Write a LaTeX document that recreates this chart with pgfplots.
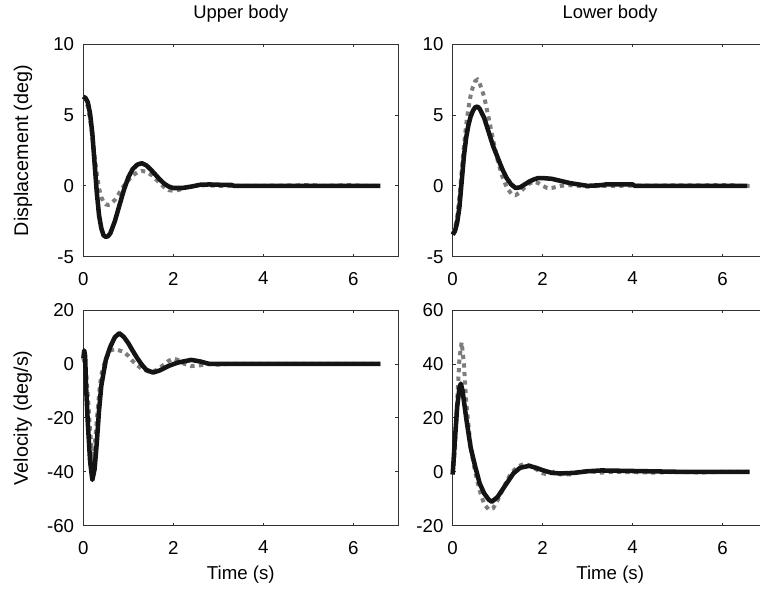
\documentclass[border=0pt]{standalone}
\usepackage{fontspec}
\setmainfont{Liberation Sans}
\usepackage{pgfplots}
\pgfplotsset{compat=1.18}
\usepackage{pgfplotstable}

\pgfplotstableread{
t y
0 6.3
0.05 6.2
0.1 5.9
0.15 5.1
0.2 3.7
0.25 1.6
0.3 -0.5
0.35 -2.1
0.4 -3.0
0.45 -3.5
0.5 -3.6
0.55 -3.55
0.6 -3.35
0.7 -2.5
0.8 -1.4
0.9 -0.3
1.0 0.6
1.1 1.2
1.2 1.5
1.3 1.6
1.4 1.45
1.5 1.15
1.6 0.8
1.7 0.45
1.8 0.15
1.9 -0.05
2.0 -0.15
2.2 -0.15
2.4 -0.05
2.6 0.08
2.8 0.1
3.0 0.08
3.3 0.06
3.35 0
6.6 0
}\ulblack

\pgfplotstableread{
t y
0 6.3
0.05 6.1
0.1 5.6
0.15 4.7
0.2 3.5
0.25 2.1
0.3 0.8
0.35 -0.2
0.4 -0.8
0.45 -1.15
0.5 -1.3
0.55 -1.35
0.6 -1.3
0.7 -1.0
0.8 -0.5
0.9 0.0
1.0 0.4
1.1 0.75
1.2 0.95
1.3 1.05
1.4 1.0
1.5 0.8
1.6 0.5
1.7 0.2
1.8 -0.1
1.9 -0.3
2.0 -0.35
2.1 -0.3
2.3 -0.1
2.5 0.0
2.7 0.05
3.0 0.0
4.0 0.0
4.9 0.05
5.1 0.05
5.3 0
5.8 0.05
6.0 0.05
6.2 0
6.6 0
}\ulgray

\pgfplotstableread{
t y
0 -3.45
0.05 -3.2
0.1 -2.6
0.15 -1.5
0.2 0.3
0.25 2.1
0.3 3.4
0.35 4.3
0.4 4.9
0.45 5.3
0.5 5.55
0.55 5.6
0.6 5.45
0.7 4.8
0.8 3.8
0.9 2.8
1.0 2.0
1.1 1.2
1.2 0.55
1.3 0.1
1.4 -0.15
1.5 -0.1
1.6 0.1
1.7 0.3
1.8 0.45
1.9 0.55
2.0 0.55
2.2 0.5
2.4 0.35
2.6 0.2
2.8 0.1
3.0 0.0
3.3 0.05
3.4 0.1
4.0 0.1
4.05 0
6.55 0
}\urblack

\pgfplotstableread{
t y
0 -3.4
0.05 -3.0
0.1 -2.2
0.15 -0.8
0.2 1.0
0.25 2.8
0.3 4.3
0.35 5.5
0.4 6.4
0.45 7.0
0.5 7.4
0.55 7.5
0.6 7.25
0.7 6.3
0.8 4.8
0.9 3.2
1.0 1.8
1.1 0.7
1.2 -0.1
1.3 -0.55
1.4 -0.65
1.5 -0.45
1.6 -0.1
1.7 0.15
1.8 0.3
1.9 0.2
2.0 0.0
2.1 -0.15
2.2 -0.15
2.4 0.0
2.6 0.05
2.8 0.0
3.0 -0.05
3.3 0.0
6.0 0.05
6.2 0.05
6.4 0
6.6 0
}\urgray

\pgfplotstableread{
t y
0 2
0.02 5
0.04 3
0.06 -8
0.1 -22
0.15 -36
0.2 -43
0.25 -39
0.3 -29
0.35 -17
0.4 -8
0.5 1.5
0.6 6.4
0.7 9.9
0.8 11.4
0.9 10
1.0 7.7
1.1 4.8
1.2 2.1
1.3 -0.3
1.4 -2.2
1.55 -3.2
1.7 -2.4
1.9 -0.7
2.1 0.5
2.4 1.5
2.6 0.9
2.8 0
6.6 0
}\llblack

\pgfplotstableread{
t y
0 2
0.04 0
0.07 -5
0.1 -12
0.15 -25
0.2 -34
0.25 -31
0.3 -21
0.35 -11
0.4 -4
0.5 2
0.6 5
0.7 5.5
0.8 5
0.9 4.5
1.0 3
1.1 1
1.2 -0.5
1.3 -1.8
1.45 -2.8
1.6 -2.5
1.75 -0.8
1.9 1.2
2.0 2.0
2.1 1.5
2.25 0
2.4 -0.8
2.6 -0.5
2.8 0
3.0 -0.3
3.2 0
6.6 0
}\llgray

\pgfplotstableread{
t y
0 -1
0.05 12
0.1 24
0.15 31
0.18 32.7
0.22 30
0.3 20
0.4 9
0.5 2
0.6 -4.3
0.7 -8
0.8 -10.3
0.87 -11.1
1.0 -9.3
1.1 -6.8
1.2 -4.3
1.35 -0.6
1.5 1.5
1.7 2.2
1.85 1.5
2.0 0.6
2.2 -0.4
2.4 -0.6
2.7 -0.4
3.0 0.2
3.3 0.5
4.0 0.3
5.0 0
6.6 0
}\lrblack

\pgfplotstableread{
t y
0 -1
0.05 8
0.1 26
0.15 42
0.2 48
0.25 40
0.3 26
0.4 9
0.5 0
0.6 -7
0.7 -12
0.8 -14
0.9 -13.5
1.0 -10.5
1.1 -7
1.2 -3.5
1.3 -0.5
1.45 2
1.6 3
1.75 2
1.9 0.5
2.0 -0.5
2.1 -1
2.25 0
2.4 -1
2.6 -1
2.8 0
3.0 0.3
3.3 -0.3
3.6 0
4.5 -0.3
5.0 0
5.5 -0.3
6.0 0
6.6 0
}\lrgray

\definecolor{axgray}{RGB}{50,50,50}
\definecolor{dotgray}{RGB}{125,125,125}
\definecolor{lineblack}{RGB}{20,20,20}

\pgfplotsset{
  panel/.style={
    scale only axis,
    width=236.25pt,
    xmin=0, xmax=7,
    xtick={0,2,4,6},
    axis line style={axgray, line width=0.75pt},
    tick style={axgray, line width=0.6pt},
    tick align=inside,
    major tick length=2.2pt,
    /pgf/number format/assume math mode=true,
    tick label style={font=\fontsize{14}{14}\selectfont, color=black},
    xticklabel style={yshift=-8.0pt},
    yticklabel style={xshift=-3.4pt},
    title style={font=\fontsize{13.8}{14}\selectfont, at={(axis description cs:0.5,1)}, anchor=base, yshift=13.2pt},
    every axis x label/.style={font=\fontsize{14}{14}\selectfont, at={(axis description cs:0.5,0)}, anchor=base, yshift=-40.7pt},
    every axis y label/.style={font=\fontsize{14.8}{15}\selectfont, at={([xshift=-41.5pt]axis description cs:0,0.5)}, rotate=90, anchor=base},
    clip=false,
  },
  grayline/.style={dotgray, line width=3pt, dash pattern=on 3.2pt off 3.2pt, line cap=butt},
  blackline/.style={lineblack, line width=3.4pt, line join=round},
}

\begin{document}
\begin{tikzpicture}
\begin{axis}[panel, at={(62.5pt,-33.2pt)}, anchor=north west, height=159.3pt,
  ymin=-5, ymax=10, ytick={-5,0,5,10}, title={Upper body}, ylabel={Displacement (deg)}]
\addplot[grayline] table[x=t,y=y] {\ulgray};
\addplot[blackline] table[x=t,y=y] {\ulblack};
\end{axis}
\begin{axis}[panel, at={(339.5pt,-33.2pt)}, anchor=north west, height=159.3pt,
  ymin=-5, ymax=10, ytick={-5,0,5,10}, title={Lower body}]
\addplot[grayline] table[x=t,y=y] {\urgray};
\addplot[blackline] table[x=t,y=y] {\urblack};
\end{axis}
\begin{axis}[panel, at={(62.5pt,-232.5pt)}, anchor=north west, height=161.8pt,
  ymin=-60, ymax=20, ytick={-60,-40,-20,0,20}, xlabel={Time (s)}, ylabel={Velocity (deg/s)}]
\addplot[grayline] table[x=t,y=y] {\llgray};
\addplot[blackline] table[x=t,y=y] {\llblack};
\end{axis}
\begin{axis}[panel, at={(339.5pt,-232.5pt)}, anchor=north west, height=161.8pt,
  ymin=-20, ymax=60, ytick={-20,0,20,40,60}, xlabel={Time (s)}]
\addplot[grayline] table[x=t,y=y] {\lrgray};
\addplot[blackline] table[x=t,y=y] {\lrblack};
\end{axis}
\pgfresetboundingbox
\path[use as bounding box] (0pt,0pt) rectangle (570pt,-441.75pt);
\end{tikzpicture}
\end{document}
